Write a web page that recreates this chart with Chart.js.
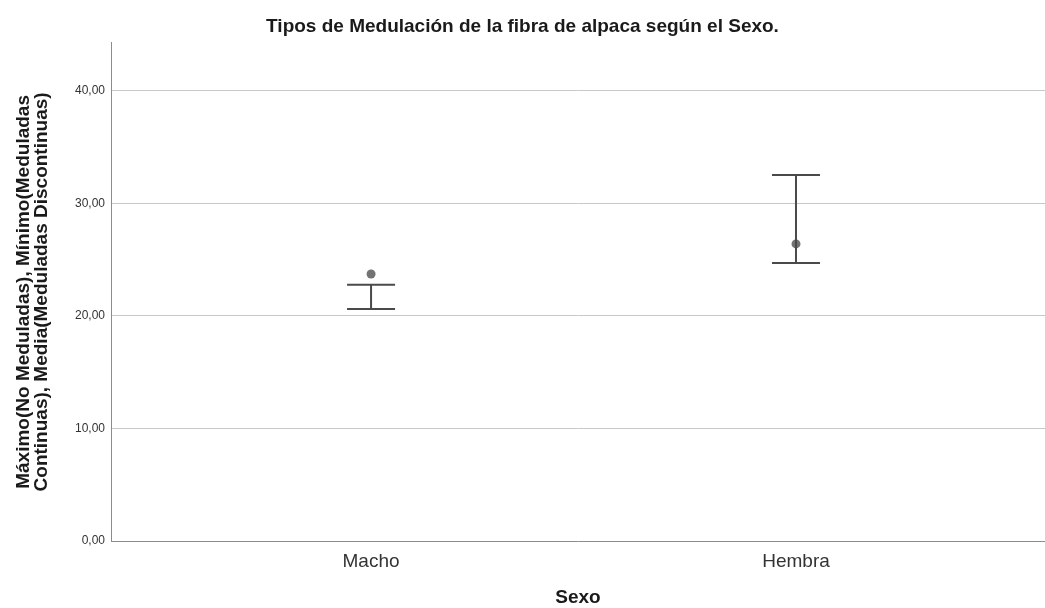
<!DOCTYPE html>
<html>
<head>
<meta charset="utf-8">
<script src="https://cdn.jsdelivr.net/npm/chart.js@4"></script>
<style>
html,body{margin:0;padding:0;background:#fff;}
#wrap{width:1045px;height:608px;}
</style>
</head>
<body>
<div id="wrap"><canvas id="c" width="1045" height="608"></canvas></div>
<script>
const categories = ['Macho', 'Hembra'];
const maxValues = [22.76, 32.53];   // Máximo(No Meduladas)
const minValues = [20.62, 24.71];   // Mínimo(Meduladas Continuas)
const meanValues = [23.73, 26.40];  // Media(Meduladas Discontinuas)
const yTicks = [0, 10, 20, 30, 40];

const FONT = "'Liberation Sans', Arial, sans-serif";

const rangeSets = categories.map((c, i) => ({
  type: 'line',
  label: c,
  data: [{x: i + 1, y: minValues[i]}, {x: i + 1, y: maxValues[i]}],
  borderColor: '#4a4a4a',
  borderWidth: 2,
  showLine: true,
  pointStyle: 'line',
  pointRadius: 24,
  pointBorderWidth: 2,
  pointBorderColor: '#4a4a4a',
  pointHoverRadius: 24,
  fill: false
}));

const meanSet = {
  type: 'scatter',
  label: 'Media',
  data: categories.map((c, i) => ({x: i + 1, y: meanValues[i]})),
  pointStyle: 'circle',
  pointRadius: 4.5,
  backgroundColor: '#737373',
  borderColor: '#737373',
  borderWidth: 0
};

new Chart(document.getElementById('c'), {
  type: 'scatter',
  data: { datasets: [...rangeSets, meanSet] },
  options: {
    responsive: false,
    animation: false,
    events: [],
    layout: { padding: 0, autoPadding: false },
    plugins: {
      legend: { display: false },
      tooltip: { enabled: false },
      title: {
        display: true,
        text: 'Tipos de Medulación de la fibra de alpaca según el Sexo.',
        color: '#1a1a1a',
        font: { family: FONT, size: 19, weight: 'bold', lineHeight: 1.2 },
        padding: { top: 15, bottom: 5 }
      }
    },
    scales: {
      x: {
        type: 'linear',
        min: 0.388,
        max: 2.586,
        afterBuildTicks: s => { s.ticks = categories.map((c, i) => ({ value: i + 1 })); },
        afterFit: s => { s.height = 67; s.paddingLeft = 0; s.paddingRight = 0; },
        ticks: {
          callback: v => categories[v - 1],
          color: '#333',
          font: { family: FONT, size: 19 },
          padding: 9
        },
        grid: { display: false, drawTicks: false },
        border: { display: true, color: '#8c8c8c', width: 1 },
        title: {
          display: true,
          text: 'Sexo',
          color: '#1a1a1a',
          font: { family: FONT, size: 19, weight: 'bold', lineHeight: 1.2 },
          padding: { top: 0, bottom: -1 }
        }
      },
      y: {
        type: 'linear',
        min: 0,
        max: 44.27,
        afterBuildTicks: s => { s.ticks = yTicks.map(v => ({ value: v })); },
        afterFit: s => { s.width = 111; s.paddingTop = 0; s.paddingBottom = 0; },
        ticks: {
          callback: v => v.toFixed(2).replace('.', ','),
          color: '#333',
          font: { family: FONT, size: 12 },
          padding: 6
        },
        grid: {
          drawTicks: false,
          color: ctx => (ctx.tick && ctx.tick.value === 0) ? 'rgba(0,0,0,0)' : '#c8c8c8',
          lineWidth: 1
        },
        border: { display: true, color: '#8c8c8c', width: 1 },
        title: {
          display: true,
          text: ['Máximo(No Meduladas), Mínimo(Meduladas', 'Continuas), Media(Meduladas Discontinuas)'],
          color: '#1a1a1a',
          font: { family: FONT, size: 19, weight: 'bold', lineHeight: 0.95 },
          padding: { top: 15, bottom: 0 }
        }
      }
    }
  }
});
</script>
</body>
</html>
